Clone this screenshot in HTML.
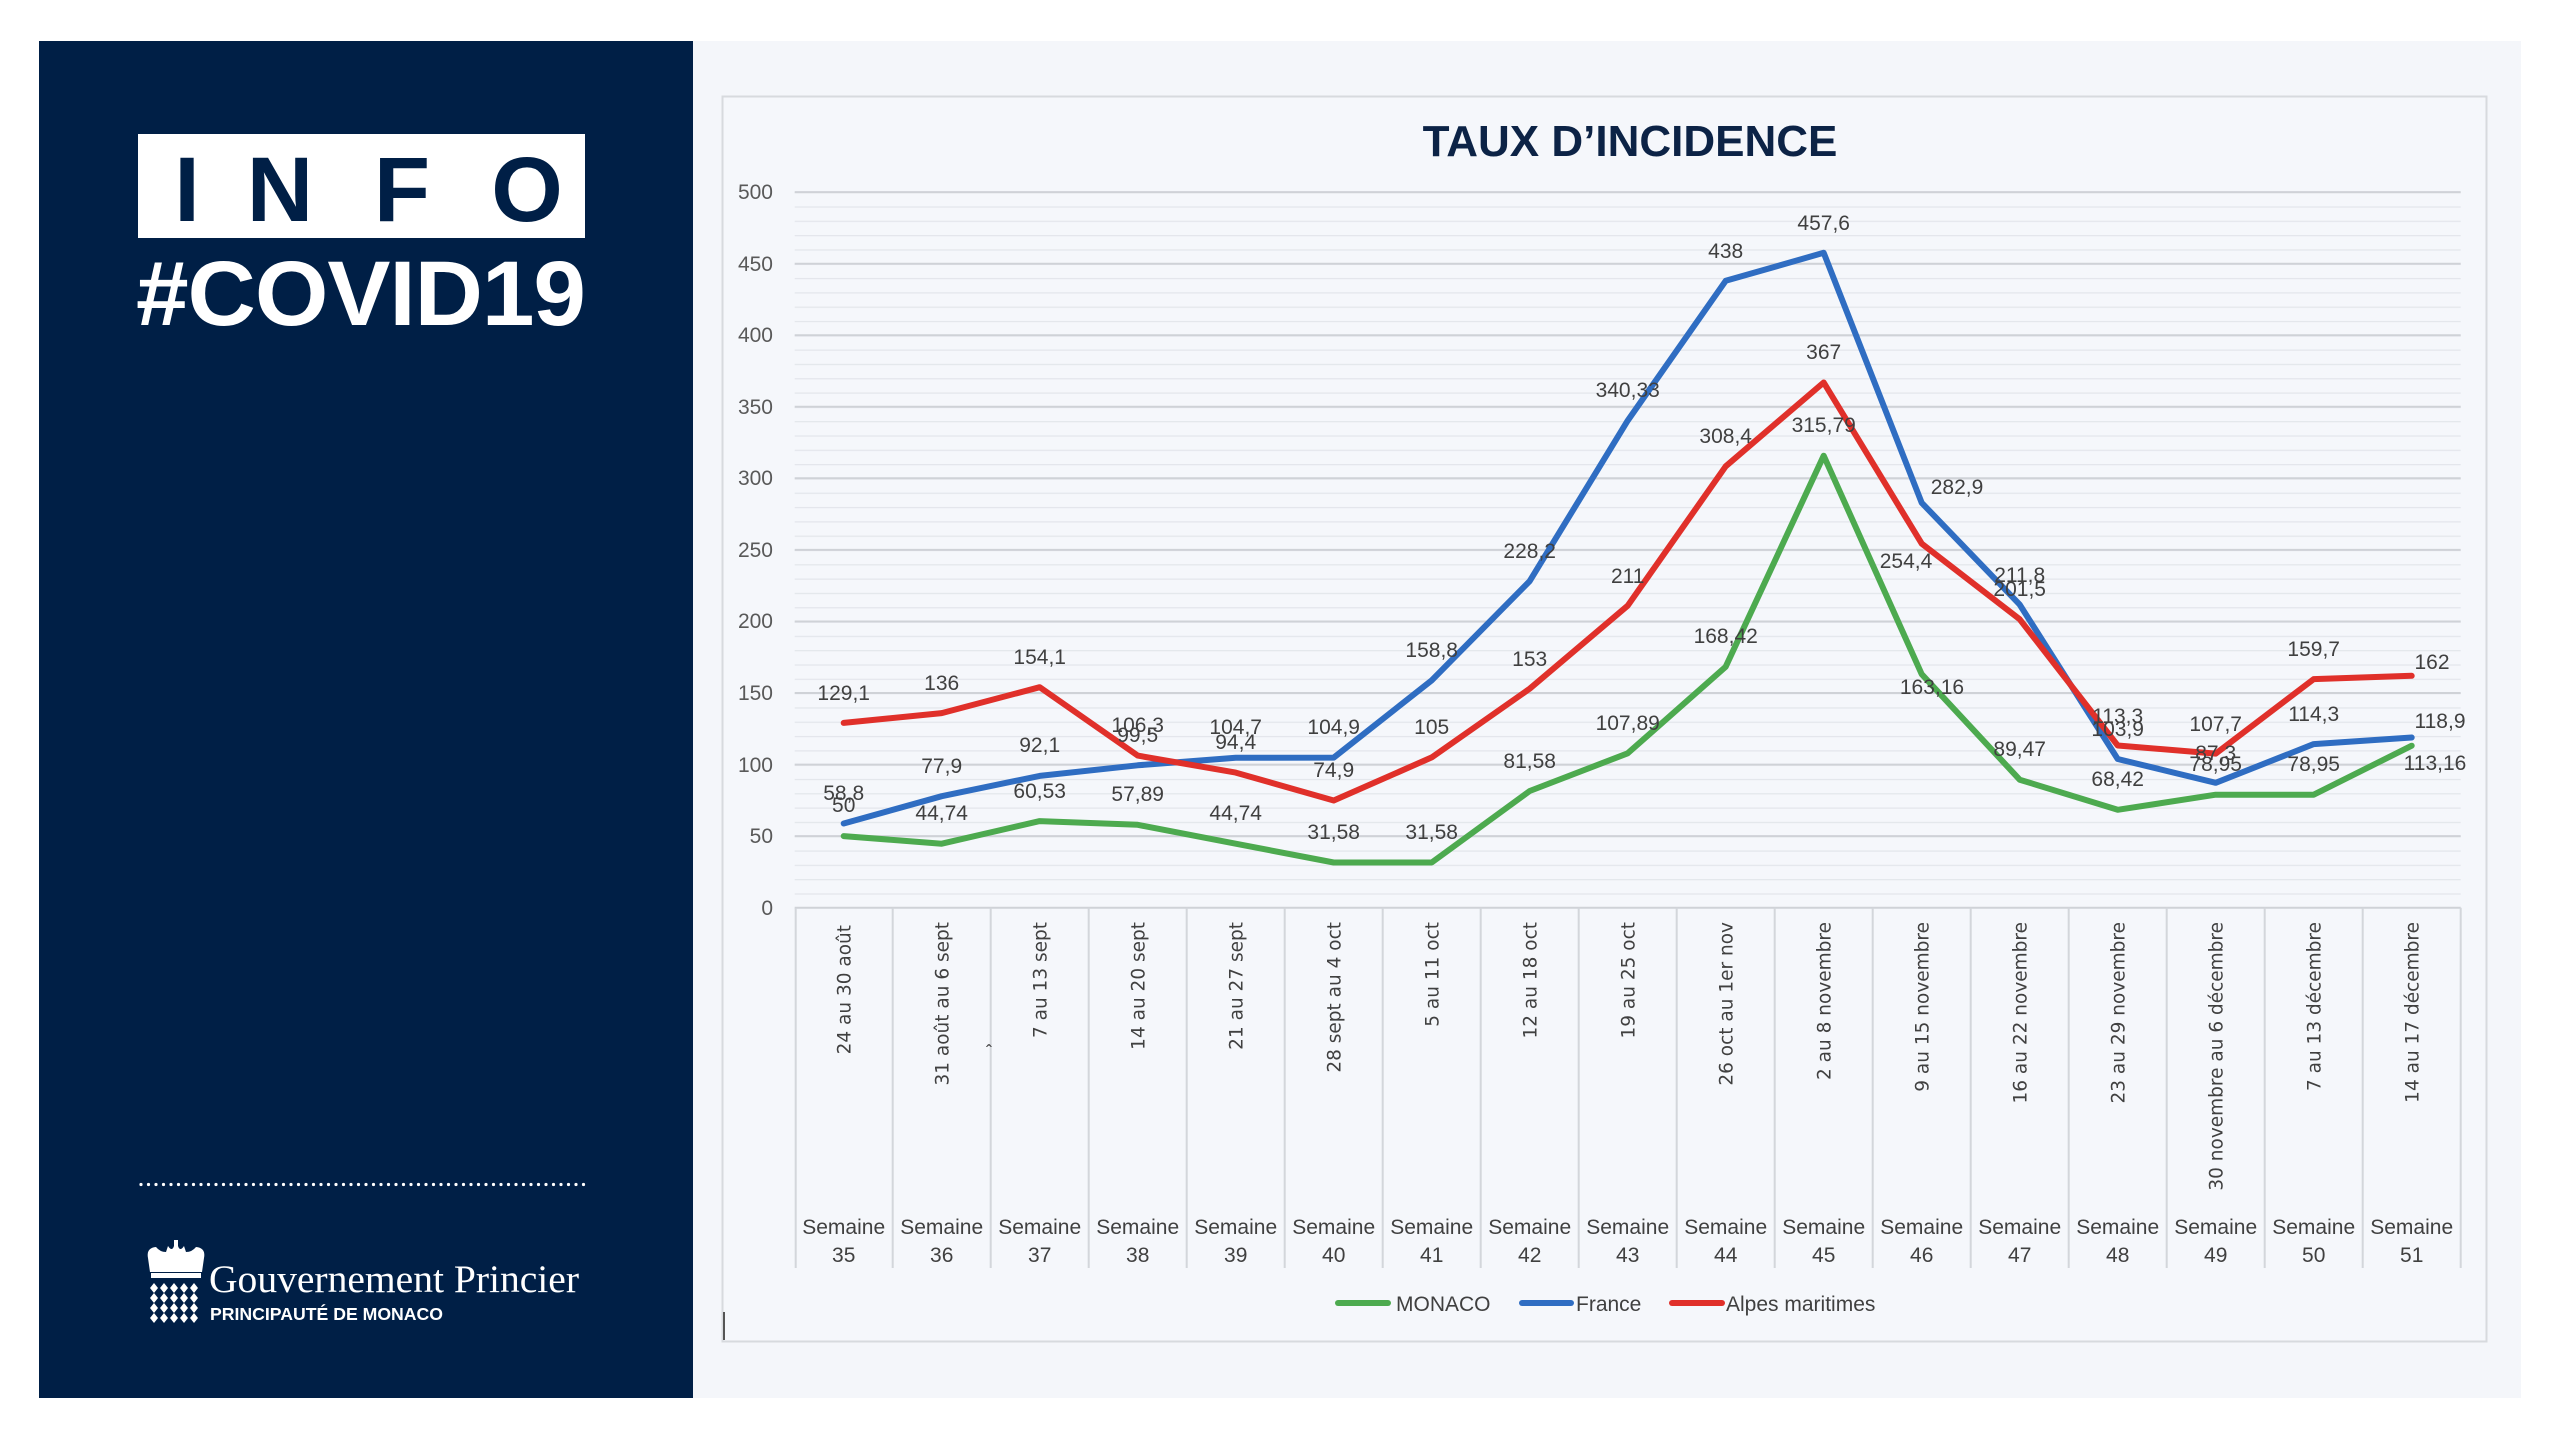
<!DOCTYPE html>
<html><head><meta charset="utf-8"><style>
html,body{margin:0;padding:0;background:#fff;}
svg{display:block;}
text{font-family:"Liberation Sans",sans-serif;}
text.dv{font-family:"DejaVu Sans",sans-serif;}
text.sf{font-family:"Liberation Serif",serif;}
</style></head><body>
<svg width="2560" height="1440" viewBox="0 0 2560 1440" xmlns="http://www.w3.org/2000/svg">
<defs>
<pattern id="minor" patternUnits="userSpaceOnUse" x="794.7" y="192.1" width="1666" height="14.312">
<line x1="0" y1="0.6" x2="1666" y2="0.6" stroke="#e3e6eb" stroke-width="1.3"/>
</pattern>
</defs>
<rect x="0" y="0" width="2560" height="1440" fill="#ffffff"/>
<rect x="692" y="41" width="1829" height="1357" fill="#f4f6fa"/>
<!-- left panel -->
<rect x="39" y="41" width="654" height="1357" fill="#001f46"/>
<rect x="138" y="134" width="447" height="104" fill="#ffffff"/>
<g font-weight="bold" font-size="92" fill="#001f46" text-anchor="middle">
<text x="187" y="221">I</text><text x="280" y="221">N</text><text x="402" y="221">F</text><text x="527" y="221">O</text>
</g>
<text x="136" y="325" font-size="92" font-weight="bold" fill="#fff" letter-spacing="-1" textLength="449" lengthAdjust="spacingAndGlyphs">#COVID19</text>
<line x1="141" y1="1184.5" x2="591" y2="1184.5" stroke="#fff" stroke-width="3.2" stroke-dasharray="0 7.5" stroke-linecap="round"/>
<!-- crown logo -->
<g fill="#fff">
<path d="M150 1272 L148 1258 Q146 1248 156 1247 Q160 1252 166 1252 L168 1246 Q172 1252 174 1246 L174 1240 L178 1240 L178 1246 Q180 1252 184 1246 L186 1252 Q192 1252 196 1247 Q206 1248 204 1258 L202 1272 Z"/>
<rect x="151" y="1273" width="50" height="5"/>
<g>
<path d="M154 1283l4 5-4 5-4-5zM164 1283l4 5-4 5-4-5zM174 1283l4 5-4 5-4-5zM184 1283l4 5-4 5-4-5zM194 1283l4 5-4 5-4-5z"/>
<path d="M154 1293l4 5-4 5-4-5zM164 1293l4 5-4 5-4-5zM174 1293l4 5-4 5-4-5zM184 1293l4 5-4 5-4-5zM194 1293l4 5-4 5-4-5z"/>
<path d="M154 1303l4 5-4 5-4-5zM164 1303l4 5-4 5-4-5zM174 1303l4 5-4 5-4-5zM184 1303l4 5-4 5-4-5zM194 1303l4 5-4 5-4-5z"/>
<path d="M154 1313l4 5-4 5-4-5zM164 1313l4 5-4 5-4-5zM174 1313l4 5-4 5-4-5zM184 1313l4 5-4 5-4-5zM194 1313l4 5-4 5-4-5z"/>
</g>
</g>
<text class="sf" x="209" y="1292" font-size="39" fill="#fff" textLength="370" lengthAdjust="spacingAndGlyphs">Gouvernement Princier</text>
<text x="210" y="1320" font-size="17.5" font-weight="bold" fill="#fff" textLength="233" lengthAdjust="spacingAndGlyphs">PRINCIPAUTÉ DE MONACO</text>

<!-- chart panel -->
<rect x="722.5" y="96.5" width="1764" height="1245" fill="#f5f7fb" stroke="#d7dade" stroke-width="2"/>
<text x="1630" y="156" font-size="44" font-weight="bold" fill="#0c2346" text-anchor="middle">TAUX D’INCIDENCE</text>

<rect x="794.7" y="192.1" width="1666" height="715.6" fill="url(#minor)"/>
<g stroke="#cfd2d7" stroke-width="2">
<line x1="794.7" y1="192.1" x2="2460.7" y2="192.1"/>
<line x1="794.7" y1="263.7" x2="2460.7" y2="263.7"/>
<line x1="794.7" y1="335.2" x2="2460.7" y2="335.2"/>
<line x1="794.7" y1="406.8" x2="2460.7" y2="406.8"/>
<line x1="794.7" y1="478.3" x2="2460.7" y2="478.3"/>
<line x1="794.7" y1="549.9" x2="2460.7" y2="549.9"/>
<line x1="794.7" y1="621.5" x2="2460.7" y2="621.5"/>
<line x1="794.7" y1="693.0" x2="2460.7" y2="693.0"/>
<line x1="794.7" y1="764.6" x2="2460.7" y2="764.6"/>
<line x1="794.7" y1="836.1" x2="2460.7" y2="836.1"/>
<line x1="794.7" y1="907.7" x2="2460.7" y2="907.7"/>
</g>
<g font-size="21" fill="#595959" text-anchor="end">
<text x="773" y="199">500</text><text x="773" y="271">450</text><text x="773" y="342">400</text>
<text x="773" y="414">350</text><text x="773" y="485">300</text><text x="773" y="557">250</text>
<text x="773" y="628">200</text><text x="773" y="700">150</text><text x="773" y="772">100</text>
<text x="773" y="843">50</text><text x="773" y="915">0</text>
</g>
<!-- category separators -->
<g stroke="#d3d6db" stroke-width="2">
<line x1="795.7" y1="907.7" x2="795.7" y2="1268"/><line x1="892.7" y1="907.7" x2="892.7" y2="1268"/>
<line x1="990.7" y1="907.7" x2="990.7" y2="1268"/><line x1="1088.7" y1="907.7" x2="1088.7" y2="1268"/>
<line x1="1186.7" y1="907.7" x2="1186.7" y2="1268"/><line x1="1284.7" y1="907.7" x2="1284.7" y2="1268"/>
<line x1="1382.7" y1="907.7" x2="1382.7" y2="1268"/><line x1="1480.7" y1="907.7" x2="1480.7" y2="1268"/>
<line x1="1578.7" y1="907.7" x2="1578.7" y2="1268"/><line x1="1676.7" y1="907.7" x2="1676.7" y2="1268"/>
<line x1="1774.7" y1="907.7" x2="1774.7" y2="1268"/><line x1="1872.7" y1="907.7" x2="1872.7" y2="1268"/>
<line x1="1970.7" y1="907.7" x2="1970.7" y2="1268"/><line x1="2068.7" y1="907.7" x2="2068.7" y2="1268"/>
<line x1="2166.7" y1="907.7" x2="2166.7" y2="1268"/><line x1="2264.7" y1="907.7" x2="2264.7" y2="1268"/>
<line x1="2362.7" y1="907.7" x2="2362.7" y2="1268"/><line x1="2460.7" y1="907.7" x2="2460.7" y2="1268"/>
</g>
<!-- rotated category labels -->
<g font-size="18.5" fill="#404040" text-anchor="end">
<text class="dv" transform="translate(850.7,925) rotate(-90)">24 au 30 août</text>
<text class="dv" transform="translate(948.7,922) rotate(-90)">31 août au 6 sept</text>
<text class="dv" transform="translate(1046.7,922) rotate(-90)">7 au 13 sept</text>
<text class="dv" transform="translate(1144.7,922) rotate(-90)">14 au 20 sept</text>
<text class="dv" transform="translate(1242.7,922) rotate(-90)">21 au 27 sept</text>
<text class="dv" transform="translate(1340.7,922) rotate(-90)">28 sept au 4 oct</text>
<text class="dv" transform="translate(1438.7,922) rotate(-90)">5 au 11 oct</text>
<text class="dv" transform="translate(1536.7,922) rotate(-90)">12 au 18 oct</text>
<text class="dv" transform="translate(1634.7,922) rotate(-90)">19 au 25 oct</text>
<text class="dv" transform="translate(1732.7,922) rotate(-90)">26 oct au 1er nov</text>
<text class="dv" transform="translate(1830.7,922) rotate(-90)">2 au 8 novembre</text>
<text class="dv" transform="translate(1928.7,922) rotate(-90)">9 au 15 novembre</text>
<text class="dv" transform="translate(2026.7,922) rotate(-90)">16 au 22 novembre</text>
<text class="dv" transform="translate(2124.7,922) rotate(-90)">23 au 29 novembre</text>
<text class="dv" transform="translate(2222.7,922) rotate(-90)">30 novembre au 6 décembre</text>
<text class="dv" transform="translate(2320.7,922) rotate(-90)">7 au 13 décembre</text>
<text class="dv" transform="translate(2418.7,922) rotate(-90)">14 au 17 décembre</text>
</g>
<text x="989" y="1058" font-size="18" fill="#404040" text-anchor="middle">ˆ</text>
<!-- Semaine labels -->
<g font-size="21" fill="#404040" text-anchor="middle">
<text x="843.7" y="1234">Semaine</text><text x="843.7" y="1262">35</text>
<text x="941.7" y="1234">Semaine</text><text x="941.7" y="1262">36</text>
<text x="1039.7" y="1234">Semaine</text><text x="1039.7" y="1262">37</text>
<text x="1137.7" y="1234">Semaine</text><text x="1137.7" y="1262">38</text>
<text x="1235.7" y="1234">Semaine</text><text x="1235.7" y="1262">39</text>
<text x="1333.7" y="1234">Semaine</text><text x="1333.7" y="1262">40</text>
<text x="1431.7" y="1234">Semaine</text><text x="1431.7" y="1262">41</text>
<text x="1529.7" y="1234">Semaine</text><text x="1529.7" y="1262">42</text>
<text x="1627.7" y="1234">Semaine</text><text x="1627.7" y="1262">43</text>
<text x="1725.7" y="1234">Semaine</text><text x="1725.7" y="1262">44</text>
<text x="1823.7" y="1234">Semaine</text><text x="1823.7" y="1262">45</text>
<text x="1921.7" y="1234">Semaine</text><text x="1921.7" y="1262">46</text>
<text x="2019.7" y="1234">Semaine</text><text x="2019.7" y="1262">47</text>
<text x="2117.7" y="1234">Semaine</text><text x="2117.7" y="1262">48</text>
<text x="2215.7" y="1234">Semaine</text><text x="2215.7" y="1262">49</text>
<text x="2313.7" y="1234">Semaine</text><text x="2313.7" y="1262">50</text>
<text x="2411.7" y="1234">Semaine</text><text x="2411.7" y="1262">51</text>
</g>
<line x1="724" y1="1312" x2="724" y2="1340" stroke="#555" stroke-width="2"/>

<!-- series -->
<g fill="none" stroke-width="6" stroke-linejoin="round" stroke-linecap="round">
<polyline stroke="#4daa4f" points="843.7,836.1 941.7,843.7 1039.7,821.1 1137.7,824.8 1235.7,843.7 1333.7,862.5 1431.7,862.5 1529.7,791.0 1627.7,753.3 1725.7,666.7 1823.7,455.7 1921.7,674.2 2019.7,779.7 2117.7,809.8 2215.7,794.7 2313.7,794.7 2411.7,745.7"/>
<polyline stroke="#2f6dc2" points="843.7,823.5 941.7,796.2 1039.7,775.9 1137.7,765.3 1235.7,757.8 1333.7,757.6 1431.7,680.4 1529.7,581.1 1627.7,420.6 1725.7,280.8 1823.7,252.8 1921.7,502.8 2019.7,604.6 2117.7,759.0 2215.7,782.8 2313.7,744.1 2411.7,737.5"/>
<polyline stroke="#e0302a" points="843.7,722.9 941.7,713.1 1039.7,687.2 1137.7,755.6 1235.7,772.6 1333.7,800.5 1431.7,757.4 1529.7,688.7 1627.7,605.7 1725.7,466.3 1823.7,382.5 1921.7,543.6 2019.7,619.3 2117.7,745.5 2215.7,753.6 2313.7,679.1 2411.7,675.8"/>
</g>
<!-- data labels -->
<g font-size="21" fill="#404040" text-anchor="middle">
<text x="843.7" y="812">50</text>
<text x="941.7" y="820">44,74</text>
<text x="1039.7" y="798">60,53</text>
<text x="1137.7" y="801">57,89</text>
<text x="1235.7" y="820">44,74</text>
<text x="1333.7" y="839">31,58</text>
<text x="1431.7" y="839">31,58</text>
<text x="1529.7" y="768">81,58</text>
<text x="1627.7" y="730">107,89</text>
<text x="1725.7" y="643">168,42</text>
<text x="1823.7" y="432">315,79</text>
<text x="1932" y="694">163,16</text>
<text x="2019.7" y="756">89,47</text>
<text x="2117.7" y="786">68,42</text>
<text x="2215.7" y="771">78,95</text>
<text x="2313.7" y="771">78,95</text>
<text x="2435" y="770">113,16</text>
<text x="843.7" y="800">58,8</text>
<text x="941.7" y="773">77,9</text>
<text x="1039.7" y="752">92,1</text>
<text x="1137.7" y="742">99,5</text>
<text x="1235.7" y="734">104,7</text>
<text x="1333.7" y="734">104,9</text>
<text x="1431.7" y="657">158,8</text>
<text x="1529.7" y="558">228,2</text>
<text x="1627.7" y="397">340,33</text>
<text x="1725.7" y="258">438</text>
<text x="1823.7" y="230">457,6</text>
<text x="1957" y="494">282,9</text>
<text x="2019.7" y="582">211,8</text>
<text x="2117.7" y="736">103,9</text>
<text x="2215.7" y="760">87,3</text>
<text x="2313.7" y="721">114,3</text>
<text x="2440" y="728">118,9</text>
<text x="843.7" y="700">129,1</text>
<text x="941.7" y="690">136</text>
<text x="1039.7" y="664">154,1</text>
<text x="1137.7" y="732">106,3</text>
<text x="1235.7" y="749">94,4</text>
<text x="1333.7" y="777">74,9</text>
<text x="1431.7" y="734">105</text>
<text x="1529.7" y="666">153</text>
<text x="1627.7" y="583">211</text>
<text x="1725.7" y="443">308,4</text>
<text x="1823.7" y="359">367</text>
<text x="1906" y="568">254,4</text>
<text x="2019.7" y="596">201,5</text>
<text x="2117.7" y="723">113,3</text>
<text x="2215.7" y="731">107,7</text>
<text x="2313.7" y="656">159,7</text>
<text x="2432" y="669">162</text>
</g>
<!-- legend -->
<g stroke-width="6" stroke-linecap="round">
<line x1="1338" y1="1303" x2="1388" y2="1303" stroke="#4daa4f"/>
<line x1="1522" y1="1303" x2="1571" y2="1303" stroke="#2f6dc2"/>
<line x1="1672" y1="1303" x2="1722" y2="1303" stroke="#e0302a"/>
</g>
<g font-size="21" fill="#404040">
<text x="1396" y="1311">MONACO</text>
<text x="1576" y="1311">France</text>
<text x="1726" y="1311">Alpes maritimes</text>
</g>
</svg>
</body></html>
